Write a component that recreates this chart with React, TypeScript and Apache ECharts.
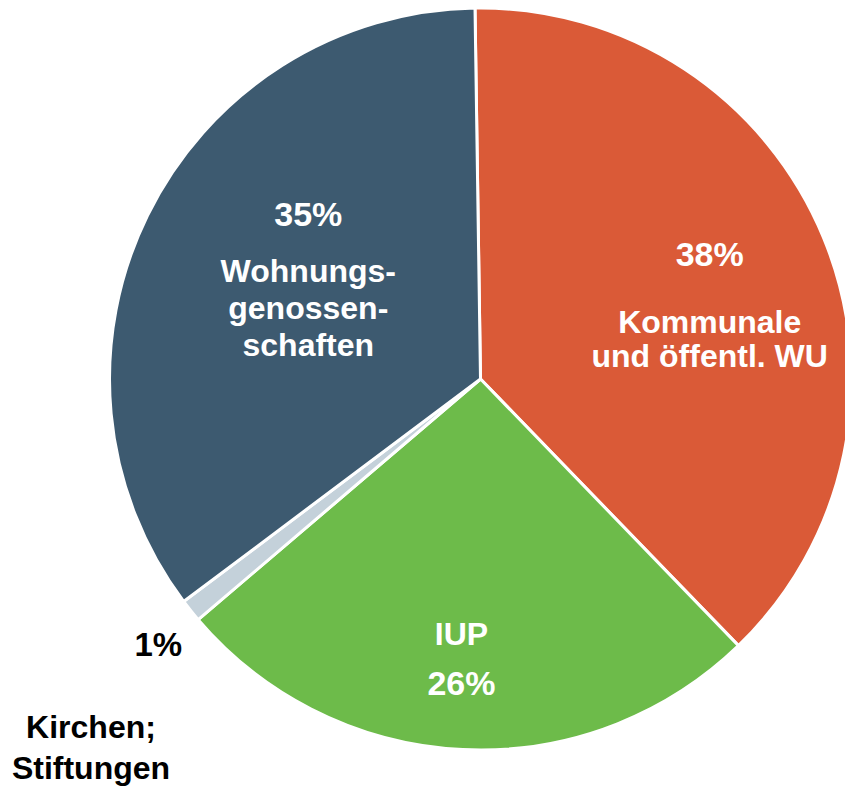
import React, { useEffect, useRef } from 'react';
import * as echarts from 'echarts';

// ---- data ----
const categories = ['Kommunale und öffentl. WU', 'IUP', 'Kirchen; Stiftungen', 'Wohnungsgenossenschaften'];
const shares = [38, 26, 1, 35];
const displayLines = [
  ['Kommunale', 'und öffentl. WU'],
  ['IUP'],
  ['Kirchen;', 'Stiftungen'],
  ['Wohnungs-', 'genossen-', 'schaften'],
];

// ---- styles ----
const colors = ['#da5a37', '#6dbb4a', '#c4d1da', '#3d5a70'];
const labelShift = [
  [55, -19],
  [-10, 91],
  [-175, 148],
  [-3, -26],
];
const FONT = '"Liberation Sans", Arial, Helvetica, sans-serif';

function labelText(i: number): string {
  const pct = `${shares[i]}%`;
  const lines = displayLines[i];
  if (i === 0) return `{pA|${pct}}\n` + lines.map((l) => `{nA|${l}}`).join('\n');
  if (i === 1) return lines.map((l) => `{nB|${l}}`).join('\n') + `\n{pB|${pct}}`;
  if (i === 2) return `{k|${pct}}`;
  return `{pC|${pct}}\n` + lines.map((l) => `{nC|${l}}`).join('\n');
}

export default function App() {
  const ref = useRef<HTMLDivElement>(null);
  useEffect(() => {
    if (!ref.current) return;
    const chart = echarts.init(ref.current, undefined, { renderer: 'svg' });
    const white = { color: '#ffffff', fontWeight: 'bold' as const, fontFamily: FONT, textBorderWidth: 0 };
    chart.setOption({
      animation: false,
      backgroundColor: '#ffffff',
      graphic: [
        {
          type: 'text',
          x: 91,
          y: 747,
          silent: true,
          style: {
            text: displayLines[2].join('\n'),
            x: 0,
            y: 0,
            align: 'center',
            verticalAlign: 'middle',
            fill: '#000000',
            font: `bold 32px ${FONT}`,
            lineHeight: 41,
          },
        },
      ],
      series: [
        {
          type: 'pie',
          center: [480.5, 379],
          radius: [0, 371],
          startAngle: 90.85,
          clockwise: true,
          silent: true,
          avoidLabelOverlap: false,
          itemStyle: { borderColor: '#ffffff', borderWidth: 3 },
          emphasis: { disabled: true },
          labelLine: { show: false },
          label: {
            show: true,
            position: 'inside',
            textBorderWidth: 0,
            formatter: (p: any) => labelText(p.dataIndex),
            rich: {
              pA: { ...white, fontSize: 34, lineHeight: 102 },
              nA: { ...white, fontSize: 32, lineHeight: 34 },
              pB: { ...white, fontSize: 34, lineHeight: 49 },
              nB: { ...white, fontSize: 32, lineHeight: 49 },
              pC: { ...white, fontSize: 34, lineHeight: 77 },
              nC: { ...white, fontSize: 32, lineHeight: 37 },
              k: { color: '#000000', fontWeight: 'bold', fontFamily: FONT, fontSize: 33, lineHeight: 40, textBorderWidth: 0 },
            },
          },
          labelLayout: (params: any) => ({
            dx: labelShift[params.dataIndex][0],
            dy: labelShift[params.dataIndex][1],
          }),
          data: categories.map((name, i) => ({
            name,
            value: shares[i],
            itemStyle: { color: colors[i] },
          })),
        },
      ],
    });
    return () => chart.dispose();
  }, []);
  return (
    <div
      ref={ref}
      style={{ position: 'fixed', left: 0, top: 0, width: 845, height: 786, background: '#fff' }}
    />
  );
}
